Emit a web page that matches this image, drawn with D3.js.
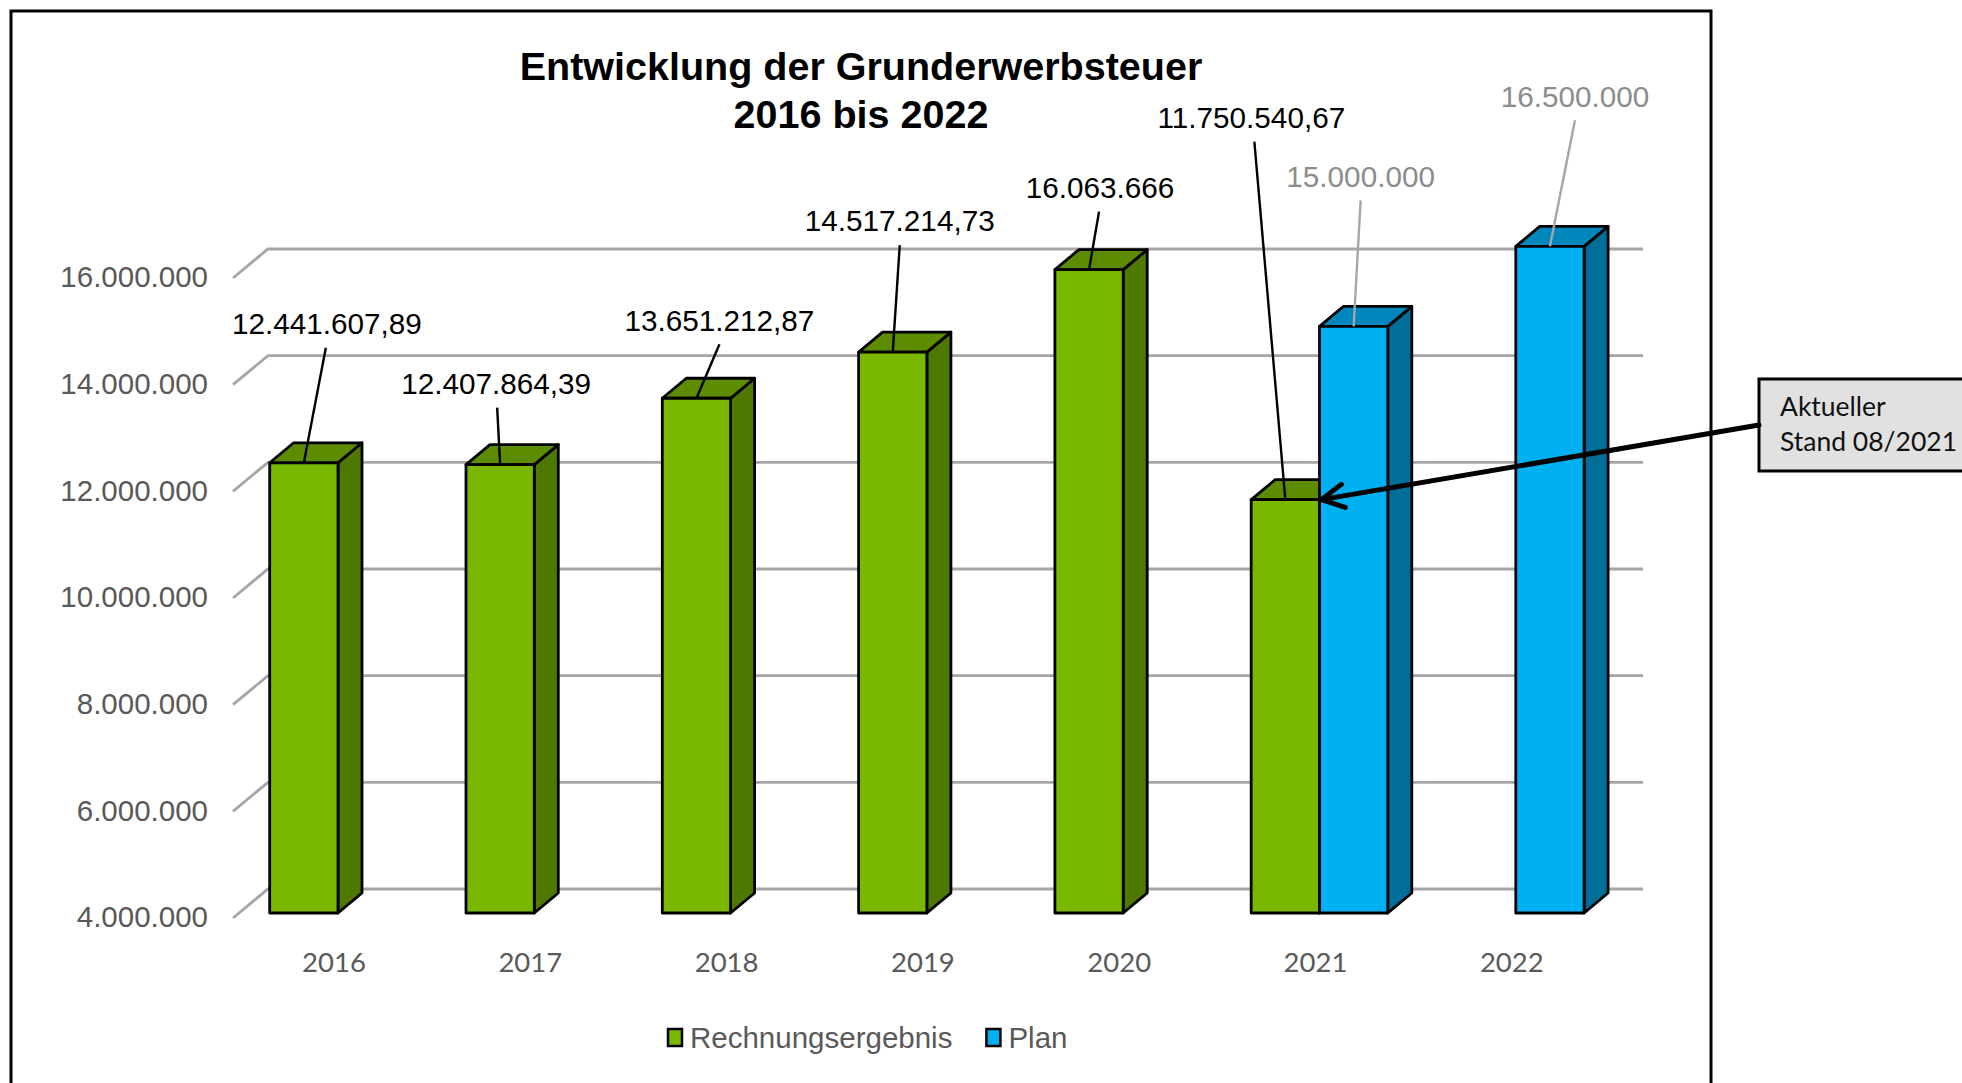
<!DOCTYPE html>
<html>
<head>
<meta charset="utf-8">
<script src="https://cdn.jsdelivr.net/npm/d3@7"></script>
<style>
  body { margin: 0; background: #fff; }
  svg { display: block; }
</style>
</head>
<body>
<script>
// data
const years = ["2016", "2017", "2018", "2019", "2020", "2021", "2022"];
const seriesNames = ["Rechnungsergebnis", "Plan"];
const rechnungsergebnis = [12441607.89, 12407864.39, 13651212.87, 14517214.73, 16063666, 11750540.67, null];
const plan = [null, null, null, null, null, 15000000, 16500000];
const yTickValues = [4000000, 6000000, 8000000, 10000000, 12000000, 14000000, 16000000];
const titleLines = ["Entwicklung der Grunderwerbsteuer", "2016 bis 2022"];
const calloutLines = ["Aktueller", "Stand 08/2021"];

// label placement relative to top-front-centre of each bar: [labelDx, labelDy]
const labelOffsets = [[23, -139], [-4, -81], [23, -78], [7, -131], [11, -82], [-34, -382], [7, -150], [25, -150]];
const leaderDx = [22, -3, 23, 7, 10, -31, 7, 25];

const W = 1962, H = 1083;
const svg = d3.select("body").append("svg").attr("width", W).attr("height", H);

const colors = {
  Rechnungsergebnis: { front: "#7ab800", top: "#5e8c00", side: "#4e7800", label: "#000", leader: "#000" },
  Plan: { front: "#00b0f0", top: "#0087be", side: "#006e99", label: "#8c8c8c", leader: "#a6a6a6" }
};

const y = d3.scaleLinear().domain([4000000, 16000000]).range([913, 273]);
const x = d3.scaleBand().domain(years).range([239.85, 239.85 + 7 * 196.3]);
const xs = d3.scaleBand().domain(seriesNames).range([-68.3, 68.3]);
const center = yr => x(yr) + x.bandwidth() / 2;

const de = d3.formatLocale({ decimal: ",", thousands: ".", grouping: [3], currency: ["", " €"] });
const fmtInt = de.format(",d"), fmtDec = de.format(",.2f");
const fmtVal = v => Number.isInteger(v) ? fmtInt(v) : fmtDec(v);

const gridBack = 24, gridDx = 35;
const dX = 24, dY = 20;

// frame
svg.append("rect").attr("x", 11).attr("y", 11).attr("width", 1700).attr("height", 1120)
  .attr("fill", "none").attr("stroke", "#000").attr("stroke-width", 3);

// title
svg.append("text").attr("x", 861).attr("y", 80)
  .attr("text-anchor", "middle").attr("font-family", "Liberation Sans, Arial, sans-serif")
  .attr("font-weight", "bold").attr("font-size", 39.5).attr("fill", "#000")
  .selectAll("tspan").data(titleLines).join("tspan")
  .attr("x", 861).attr("dy", (d, i) => i === 0 ? 0 : 48).text(d => d);

// gridlines on back wall
const grid = svg.append("g");
yTickValues.forEach(v => {
  const yf = y(v);
  grid.append("path")
    .attr("d", `M233,${yf + 5}L${233 + gridDx},${yf - gridBack}L1643,${yf - gridBack}`)
    .attr("fill", "none").attr("stroke", "#a6a6a6").attr("stroke-width", 2.8);
});

// y axis labels
svg.append("g").selectAll("text").data(yTickValues).join("text")
  .attr("x", 208).attr("y", d => y(d) + 4).attr("dy", "0.35em")
  .attr("text-anchor", "end").attr("font-family", "Liberation Sans, Arial, sans-serif")
  .attr("font-size", 29.5).attr("fill", "#595959")
  .text(d => fmtInt(d));

// x axis labels
svg.append("g").selectAll("text").data(years).join("text")
  .attr("x", d => center(d) - 4).attr("y", 962).attr("dy", "0.35em")
  .attr("text-anchor", "middle").attr("font-family", "Lato, sans-serif")
  .attr("font-size", 27.5).attr("fill", "#595959")
  .text(d => d);

// bars
const bars = [];
years.forEach((yr, i) => {
  if (rechnungsergebnis[i] != null) bars.push({ year: yr, series: "Rechnungsergebnis", value: rechnungsergebnis[i] });
  if (plan[i] != null) bars.push({ year: yr, series: "Plan", value: plan[i] });
});

const barG = svg.append("g");
bars.forEach(b => {
  const c = colors[b.series];
  const x0 = center(b.year) + xs(b.series), x1 = x0 + xs.bandwidth();
  const yt = y(b.value), yb = y.range()[0];
  const g = barG.append("g").attr("stroke", "#000").attr("stroke-width", 2.8).attr("stroke-linejoin", "round");
  g.append("path").attr("fill", c.side)
    .attr("d", `M${x1},${yt}L${x1 + dX},${yt - dY}L${x1 + dX},${yb - dY}L${x1},${yb}Z`);
  g.append("path").attr("fill", c.top)
    .attr("d", `M${x0},${yt}L${x0 + dX},${yt - dY}L${x1 + dX},${yt - dY}L${x1},${yt}Z`);
  g.append("rect").attr("x", x0).attr("y", yt).attr("width", x1 - x0).attr("height", yb - yt)
    .attr("fill", c.front);
});

// data labels with leader lines
const lab = svg.append("g");
bars.forEach((b, i) => {
  const c = colors[b.series];
  const ax = center(b.year) + xs(b.series) + xs.bandwidth() / 2, ay = y(b.value);
  const [ldx, ldy] = labelOffsets[i];
  lab.append("line")
    .attr("x1", ax + leaderDx[i]).attr("y1", ay + ldy + 24).attr("x2", ax).attr("y2", ay)
    .attr("stroke", c.leader).attr("stroke-width", 2.4);
  lab.append("text")
    .attr("x", ax + ldx).attr("y", ay + ldy).attr("dy", "0.35em")
    .attr("text-anchor", "middle").attr("font-family", "Liberation Sans, Arial, sans-serif")
    .attr("font-size", 29.7).attr("fill", c.label)
    .text(fmtVal(b.value));
});

// legend
const leg = svg.append("g").attr("font-family", "Liberation Sans, Arial, sans-serif").attr("font-size", 29.5);
let lx = 668;
seriesNames.forEach(s => {
  leg.append("rect").attr("x", lx).attr("y", 1029).attr("width", 14).attr("height", 17)
    .attr("fill", colors[s].front).attr("stroke", "#000").attr("stroke-width", 2.5);
  const t = leg.append("text").attr("x", lx + 22).attr("y", 1048).attr("fill", "#595959").text(s);
  lx += 22 + t.node().getComputedTextLength() + 34;
});

// callout box and arrow
const box = { x: 1759, y: 379, w: 230, h: 92 };
svg.append("rect").attr("x", box.x).attr("y", box.y).attr("width", box.w).attr("height", box.h)
  .attr("fill", "#e1e1e1").attr("stroke", "#000").attr("stroke-width", 3);
svg.append("text").attr("font-family", "Lato, sans-serif").attr("font-size", 26.5).attr("fill", "#111")
  .selectAll("tspan").data(calloutLines).join("tspan")
  .attr("x", 1780).attr("y", (d, i) => 416 + i * 35).text(d => d);

const tip = [center("2021") + 2, y(rechnungsergebnis[5])];
const start = [box.x, 425];
const ang = Math.atan2(start[1] - tip[1], start[0] - tip[0]);
const hl = 25, spread = 28 * Math.PI / 180;
const arrow = svg.append("g").attr("stroke", "#000").attr("stroke-width", 5).attr("stroke-linecap", "round").attr("fill", "none");
arrow.append("line").attr("x1", start[0]).attr("y1", start[1]).attr("x2", tip[0]).attr("y2", tip[1]);
arrow.append("path").attr("d",
  `M${tip[0] + hl * Math.cos(ang + spread)},${tip[1] + hl * Math.sin(ang + spread)}` +
  `L${tip[0]},${tip[1]}` +
  `L${tip[0] + hl * Math.cos(ang - spread)},${tip[1] + hl * Math.sin(ang - spread)}`)
  .attr("stroke-linejoin", "miter");
</script>
</body>
</html>
